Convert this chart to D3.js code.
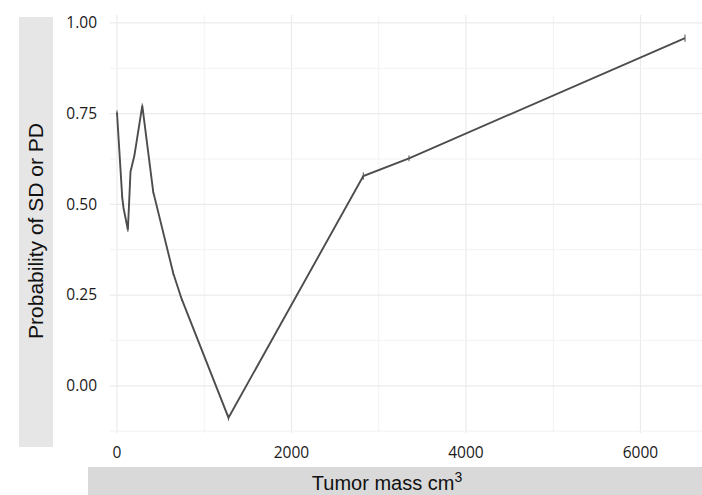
<!DOCTYPE html>
<html><head><meta charset="utf-8">
<script src="https://cdn.jsdelivr.net/npm/d3@7"></script>
<style>body{margin:0;background:#fff}svg{display:block}</style>
</head><body>
<svg id="c" width="702" height="495"></svg>
<script>
const tumorMass = [0, 60, 75, 125, 155, 200, 290, 415, 645, 740, 1278, 2823, 3347, 6510];
const probability = [0.753, 0.52, 0.49, 0.43, 0.59, 0.635, 0.772, 0.535, 0.31, 0.24, -0.088, 0.578, 0.627, 0.958];
const errorHalf = [0.006, 0.006, 0.006, 0.006, 0.006, 0.006, 0.006, 0.006, 0.006, 0.006, 0.008, 0.01, 0.008, 0.01];
const xTicks = [0, 2000, 4000, 6000];
const xMinor = [1000, 3000, 5000];
const yTicks = [0, 0.25, 0.5, 0.75, 1.0];
const yMinor = [-0.125, 0.125, 0.375, 0.625, 0.875];
const xTitle = "Tumor mass cm";
const xTitleSup = "3";
const yTitle = "Probability of SD or PD";

const svg = d3.select("#c");
const x = d3.scaleLinear().domain([-80, 6705]).range([110, 702]);
const y = d3.scaleLinear().domain([-0.1301, 1.0218]).range([433, 15]);

// strips
svg.append("rect").attr("x", 19).attr("y", 17).attr("width", 34).attr("height", 430).attr("fill", "#e6e6e6");
svg.append("rect").attr("x", 88).attr("y", 467).attr("width", 614).attr("height", 28).attr("fill", "#d9d9d9");

// grid
const g = svg.append("g");
g.selectAll(".vmin").data(xMinor).join("line")
  .attr("x1", d => x(d)).attr("x2", d => x(d)).attr("y1", 15).attr("y2", 433)
  .attr("stroke", "#f2f2f2").attr("stroke-width", 1);
g.selectAll(".vmaj").data(xTicks).join("line")
  .attr("x1", d => x(d)).attr("x2", d => x(d)).attr("y1", 15).attr("y2", 433)
  .attr("stroke", "#ebebeb").attr("stroke-width", 1.2);
g.selectAll(".hmin").data(yMinor).join("line")
  .attr("x1", 110).attr("x2", 702).attr("y1", d => y(d)).attr("y2", d => y(d))
  .attr("stroke", "#f2f2f2").attr("stroke-width", 1);
g.selectAll(".hmaj").data(yTicks).join("line")
  .attr("x1", 110).attr("x2", 702).attr("y1", d => y(d)).attr("y2", d => y(d))
  .attr("stroke", "#ebebeb").attr("stroke-width", 1.2);

// tick labels
const tickFont = "'Open Sans', sans-serif";
svg.selectAll(".yl").data(yTicks).join("text")
  .attr("x", 97).attr("y", d => y(d)).attr("dy", "0.35em")
  .attr("text-anchor", "end").attr("font-family", tickFont).attr("font-size", 15.5)
  .attr("fill", "#1a1a1a").text(d => d3.format(".2f")(d));
svg.selectAll(".xl").data(xTicks).join("text")
  .attr("x", d => x(d)).attr("y", 458)
  .attr("text-anchor", "middle").attr("font-family", tickFont).attr("font-size", 15.5)
  .attr("fill", "#1a1a1a").text(d => d);

// line
const pts = tumorMass.map((m, i) => ({m, p: probability[i], e: errorHalf[i]}));
svg.append("path").datum(pts)
  .attr("d", d3.line().x(d => x(d.m)).y(d => y(d.p)))
  .attr("fill", "none").attr("stroke", "#4d4d4d").attr("stroke-width", 1.9)
  .attr("stroke-linejoin", "miter");
svg.selectAll(".err").data(pts).join("line")
  .attr("x1", d => x(d.m)).attr("x2", d => x(d.m))
  .attr("y1", d => y(d.p - d.e)).attr("y2", d => y(d.p + d.e))
  .attr("stroke", "#4d4d4d").attr("stroke-width", 1);

// titles
const titleFont = "'Liberation Sans', Arial, sans-serif";
svg.append("text").attr("transform", "translate(43,231) rotate(-90)")
  .attr("text-anchor", "middle").attr("font-family", titleFont).attr("font-size", 21)
  .attr("fill", "#111").text(yTitle);
const xt = svg.append("text").attr("x", 387).attr("y", 490)
  .attr("text-anchor", "middle").attr("font-family", titleFont).attr("font-size", 20)
  .attr("fill", "#111");
xt.append("tspan").text(xTitle);
xt.append("tspan").attr("dy", -8).attr("font-size", 14).text(xTitleSup);
</script>
</body></html>
